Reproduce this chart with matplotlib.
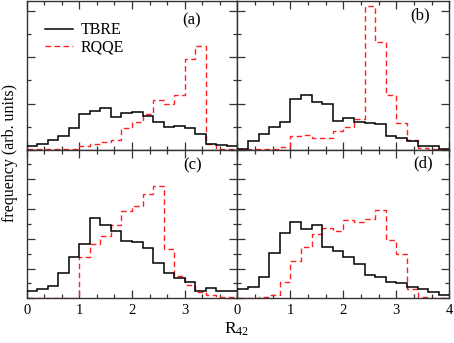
import numpy as np
import matplotlib
matplotlib.use('Agg')
import matplotlib.pyplot as plt
from matplotlib.ticker import MultipleLocator

plt.rcParams['font.family'] = ['Liberation Serif', 'DejaVu Serif']
plt.rcParams['mathtext.fontset'] = 'custom'
plt.rcParams['mathtext.rm'] = 'Liberation Serif'
plt.rcParams['mathtext.it'] = 'Liberation Serif:italic'

# bin edges of R_42, width 0.2
edges = np.arange(0, 4.01, 0.2)

# frequencies (arb. units), 20 bins each
tbre_a = [0.09, 0.12, 0.20, 0.29, 0.47, 0.78, 0.83, 0.90, 0.70, 0.79,
          0.81, 0.73, 0.59, 0.50, 0.52, 0.47, 0.34, 0.13, 0.11, 0.09]
rqqe_a = [0.01, 0.01, 0.01, 0.01, 0.02, 0.09, 0.12, 0.17, 0.22, 0.48,
          0.59, 0.77, 1.08, 0.99, 1.19, 1.96, 2.25, 0.13, 0.02, 0.01]
tbre_b = [0.02, 0.18, 0.35, 0.49, 0.61, 1.09, 1.19, 1.04, 0.98, 0.63,
          0.68, 0.59, 0.58, 0.55, 0.29, 0.25, 0.18, 0.07, 0.07, 0.02]
rqqe_b = [0.01, 0.01, 0.01, 0.01, 0.05, 0.29, 0.32, 0.25, 0.25, 0.40,
          0.49, 0.67, 3.11, 2.33, 1.19, 0.58, 0.22, 0.04, 0.01, 0.01]
tbre_c = [0.26, 0.30, 0.41, 0.86, 1.38, 1.82, 2.69, 2.46, 2.28, 1.94,
          1.91, 1.70, 1.18, 0.86, 0.69, 0.56, 0.26, 0.36, 0.26, 0.26]
rqqe_c = [0.02, 0.02, 0.02, 0.02, 0.02, 1.40, 1.82, 2.10, 2.47, 2.94,
          3.11, 3.50, 3.78, 1.65, 0.75, 0.45, 0.22, 0.11, 0.06, 0.06]
tbre_d = [0.30, 0.39, 0.73, 1.54, 2.19, 2.58, 2.32, 2.45, 1.72, 1.59,
          1.38, 1.15, 0.78, 0.71, 0.56, 0.53, 0.39, 0.31, 0.22, 0.11]
rqqe_d = [0.01, 0.01, 0.03, 0.11, 0.54, 1.26, 1.71, 2.15, 2.38, 2.28,
          2.64, 2.58, 2.67, 2.97, 1.96, 1.49, 0.30, 0.03, 0.01, 0.01]

panels = [('(a)', tbre_a, rqqe_a), ('(b)', tbre_b, rqqe_b),
          ('(c)', tbre_c, rqqe_c), ('(d)', tbre_d, rqqe_d)]
label_pos = [(0.785, 0.872), (0.862, 0.9), (0.788, 0.897), (0.875, 0.91)]

fig = plt.figure(figsize=(4.54, 3.43), dpi=100)

xl = [0.0588, 0.5227]
wd = [0.4639, 0.467]
yb = [0.5636, 0.1303]
ht = 0.4335
ylims = [3.22, 5.0]
spine_c = '#333333'

for k, (lab, tb, rq) in enumerate(panels):
    r, c = divmod(k, 2)
    ax = fig.add_axes([xl[c], yb[r], wd[c], ht])
    ax.stairs(rq, edges, baseline=None, color='#ff2020', lw=1.0,
              linestyle=(0, (4, 2.5)), label='RQQE', zorder=2)
    ax.stairs(tb, edges, baseline=None, color='black', lw=1.1,
              label='TBRE', zorder=3)
    ax.set_xlim(0, 4)
    ax.set_ylim(0, ylims[r])
    ax.xaxis.set_major_locator(MultipleLocator(1))
    ax.xaxis.set_minor_locator(MultipleLocator(1/3))
    ax.yaxis.set_major_locator(MultipleLocator(1))
    ax.yaxis.set_minor_locator(MultipleLocator(0.5))
    ax.tick_params(which='both', direction='in', top=True, right=True,
                   color=spine_c, width=0.9, labelsize=10.5, pad=4)
    ax.tick_params(which='major', length=5.5)
    ax.tick_params(which='minor', length=3)
    ax.set_yticklabels([])
    for s in ax.spines.values():
        s.set_color(spine_c)
        s.set_linewidth(1.0)
    if r == 0:
        ax.set_xticklabels([])
    else:
        ticks = [0, 1, 2, 3] if c == 0 else [0, 1, 2, 3, 4]
        ax.set_xticks(ticks)
        ax.set_xticklabels([str(t) for t in ticks])
    ax.text(*label_pos[k], lab, transform=ax.transAxes,
            ha='center', va='center', fontsize=12)
    if k == 0:
        h, l = ax.get_legend_handles_labels()
        ax.legend(h[::-1], l[::-1], loc='upper left', frameon=False,
                  fontsize=11.5, handlelength=1.75, handletextpad=0.5,
                  labelspacing=0.1, bbox_to_anchor=(0.055, 0.9),
                  borderaxespad=0)

fig.text(0.522, 0.04, r'R$_{\mathrm{42}}$', ha='center', va='center',
         fontsize=12.5)
fig.text(0.022, 0.555, 'frequency (arb. units)', rotation=90,
         ha='center', va='center', fontsize=11.5)

fig.savefig('out.png', dpi=100)
